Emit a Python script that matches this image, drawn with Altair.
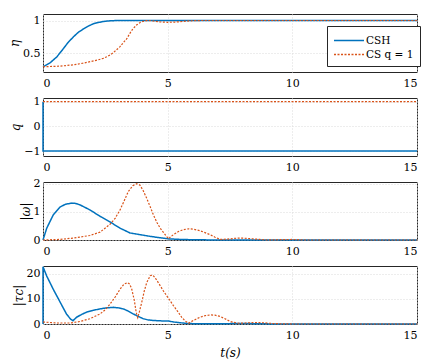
import altair as alt
import pandas as pd

T_TICKS = [0, 5, 10, 15]
SERIES = ["CSH", "CS q = 1"]
COLORS = ["#0072BD", "#D95319"]
DASHES = [[1, 0], [2, 1.5]]
FONT = "DejaVu Serif"

# eta
eta_csh_t = [0, 0.28, 0.55, 0.82, 1.0, 1.22, 1.42, 1.62, 1.82, 2.02, 2.22, 2.42, 2.62, 2.8, 3.2, 4.0, 15]
eta_csh_v = [0.29, 0.35, 0.44, 0.57, 0.66, 0.75, 0.82, 0.87, 0.915, 0.95, 0.97, 0.985, 0.993, 0.998, 1.0, 1.0, 1.0]
eta_cs_t = [0, 0.68, 1.22, 1.6, 1.9, 2.2, 2.42, 2.6, 2.8, 2.95, 3.09, 3.22, 3.36, 3.48, 3.6, 3.75, 3.9, 4.0,
            4.1, 4.25, 4.4, 4.7, 5.0, 5.25, 5.5, 5.9, 6.3, 15]
eta_cs_v = [0.29, 0.30, 0.32, 0.345, 0.37, 0.395, 0.42, 0.45, 0.50, 0.55, 0.60, 0.66, 0.72, 0.80, 0.87, 0.93,
            0.97, 0.985, 0.998, 1.0, 0.993, 0.978, 0.972, 0.975, 0.982, 0.995, 1.0, 1.0]

# q
q_csh_t = [0, 0, 15]
q_csh_v = [1, -1, -1]
q_cs_t = [0, 15]
q_cs_v = [1, 1]

# |omega|
om_csh_t = [0, 0.15, 0.41, 0.68, 0.9, 1.15, 1.3, 1.48, 1.88, 2.29, 2.69, 3.09, 3.49, 3.89, 4.29, 4.69,
            5.03, 5.5, 6.0, 7.0, 15]
om_csh_v = [0, 0.42, 0.89, 1.17, 1.27, 1.31, 1.30, 1.25, 1.07, 0.84, 0.64, 0.42, 0.25, 0.19, 0.13, 0.08,
            0.04, 0.02, 0.01, 0.0, 0.0]
om_cs_t = [0, 0.68, 1.22, 1.88, 2.29, 2.69, 2.9, 3.09, 3.25, 3.42, 3.6, 3.76, 3.89, 4.02, 4.16, 4.3, 4.43,
           4.57, 4.7, 4.87, 5.03, 5.13, 5.23, 5.43, 5.64, 5.85, 6.05, 6.3, 6.5, 6.7, 6.9, 7.1, 7.4, 7.7,
           7.95, 8.3, 8.7, 9.0, 9.5, 10, 10.5, 15]
om_cs_v = [0, 0.02, 0.07, 0.16, 0.28, 0.56, 0.78, 1.07, 1.38, 1.72, 1.93, 2.0, 1.95, 1.75, 1.48, 1.18, 0.89,
           0.62, 0.42, 0.22, 0.04, 0.12, 0.19, 0.30, 0.37, 0.40, 0.38, 0.33, 0.26, 0.19, 0.10, 0.02, 0.03,
           0.06, 0.07, 0.05, 0.02, 0.0, 0.01, 0.02, 0.0, 0.0]

# |tau_c|
tau_csh_t = [0, 0, 0.15, 0.41, 0.68, 0.94, 1.1, 1.2, 1.35, 1.55, 1.75, 2.0, 2.29, 2.55, 2.82, 3.02, 3.22,
             3.42, 3.62, 3.82, 4.02, 4.22, 4.43, 4.83, 5.03, 5.23, 5.5, 5.76, 6.1, 7, 8, 9, 10, 15]
tau_csh_v = [0, 22.7, 19.0, 13.8, 8.8, 4.0, 2.0, 1.3, 2.7, 3.8, 4.7, 5.4, 6.0, 6.4, 6.6, 6.4, 6.0, 5.1,
             4.0, 3.0, 2.1, 1.6, 1.4, 1.2, 1.2, 0.8, 0.5, 0.26, 0.1, 0.1, 0.2, 0.05, 0, 0]
tau_cs_t = [0, 0.55, 1.08, 1.48, 1.88, 2.29, 2.5, 2.69, 2.9, 3.09, 3.25, 3.38, 3.48, 3.56, 3.66, 3.74,
            3.8, 3.87, 3.96, 4.06, 4.16, 4.3, 4.4, 4.5, 4.65, 4.83, 5.03, 5.23, 5.4, 5.56, 5.7, 5.83, 5.93,
            6.03, 6.3, 6.5, 6.7, 6.9, 7.1, 7.3, 7.5, 7.8, 8.1, 8.5, 8.8, 9.2, 9.6, 10, 15]
tau_cs_v = [0.8, 0.4, 0.4, 1.0, 2.1, 4.0, 5.7, 7.9, 10.8, 13.8, 15.8, 16.4, 15.8, 13.8, 9.5, 4.5,
            2.5, 5.0, 8.6, 13.0, 16.4, 19.2, 19.4, 18.3, 16.0, 13.1, 10.2, 7.3, 5.0, 2.7, 1.2, 0.3, 0.8,
            1.4, 2.7, 3.3, 3.6, 3.5, 3.0, 2.1, 1.0, 0.3, 0.4, 0.6, 0.5, 0.2, 0.05, 0.0, 0.0]


def frame(t, v, s):
    return pd.DataFrame({"t": t, "v": v, "s": s, "i": list(range(len(t)))})


def panel(csh, cs, ytitle, yticks, ydom, legend, last):
    data = pd.concat([frame(*csh, SERIES[0]), frame(*cs, SERIES[1])], ignore_index=True)
    if last:
        xaxis = alt.Axis(values=T_TICKS, format="d", title="t(s)", titlePadding=7)
    else:
        xaxis = alt.Axis(values=T_TICKS, format="d", title=None)
    x = alt.X("t:Q", scale=alt.Scale(domain=[0, 15], nice=False, zero=False), axis=xaxis)
    y = alt.Y("v:Q", scale=alt.Scale(domain=ydom, nice=False, zero=False),
              axis=alt.Axis(values=yticks, format="~r", title=ytitle, labelPadding=3, titlePadding=1))
    if legend:
        leg = alt.Legend(orient="none", legendX=284, legendY=12, title=None,
                         strokeColor="#262626", fillColor="white", padding=6,
                         symbolType="M-1,0L3,0", symbolSize=225, symbolStrokeWidth=1.5,
                         labelFont=FONT, labelFontSize=10.5, labelColor="black",
                         rowPadding=0, labelOffset=16)
    else:
        leg = None
    color = alt.Color("s:N", scale=alt.Scale(domain=SERIES, range=COLORS), legend=leg)
    dash = alt.StrokeDash("s:N", scale=alt.Scale(domain=SERIES, range=DASHES), legend=leg)
    base = alt.Chart(data).encode(x=x, y=y, color=color, strokeDash=dash, order="i:Q")
    l1 = base.transform_filter(alt.datum.s == SERIES[0]).mark_line(strokeWidth=1.5)
    l2 = base.transform_filter(alt.datum.s == SERIES[1]).mark_line(strokeWidth=1.2)
    return alt.layer(l1, l2).properties(width=374, height=58)


p1 = panel((eta_csh_t, eta_csh_v), (eta_cs_t, eta_cs_v), "η", [0.5, 1], [0.21, 1.1], True, False)
p2 = panel((q_csh_t, q_csh_v), (q_cs_t, q_cs_v), "q", [-1, 0, 1], [-1.2, 1.15], False, False)
p3 = panel((om_csh_t, om_csh_v), (om_cs_t, om_cs_v), "|ω|", [0, 1, 2], [0, 2.06], False, False)
p4 = panel((tau_csh_t, tau_csh_v), (tau_cs_t, tau_cs_v), "|τc|", [0, 10, 20], [0, 23], False, True)

chart = (
    alt.vconcat(p1, p2, p3, p4, spacing=26, bounds="flush")
    .resolve_scale(color="independent", strokeDash="independent")
    .properties(padding={"left": 0, "top": 5, "right": 5, "bottom": 5})
    .configure(font=FONT)
    .configure_view(stroke="#262626", strokeWidth=1)
    .configure_axis(
        labelFont=FONT, labelFontSize=11, labelColor="black",
        titleFont=FONT, titleFontSize=12, titleFontStyle="italic", titleFontWeight="normal",
        titleColor="black", grid=True, gridColor="#dadada", gridDash=[1, 2],
        domain=False, ticks=False, labelPadding=5, titlePadding=2,
    )
    .configure_legend(labelFont=FONT)
)

chart.save("out.html", embed_options={"renderer": "svg", "actions": False})
